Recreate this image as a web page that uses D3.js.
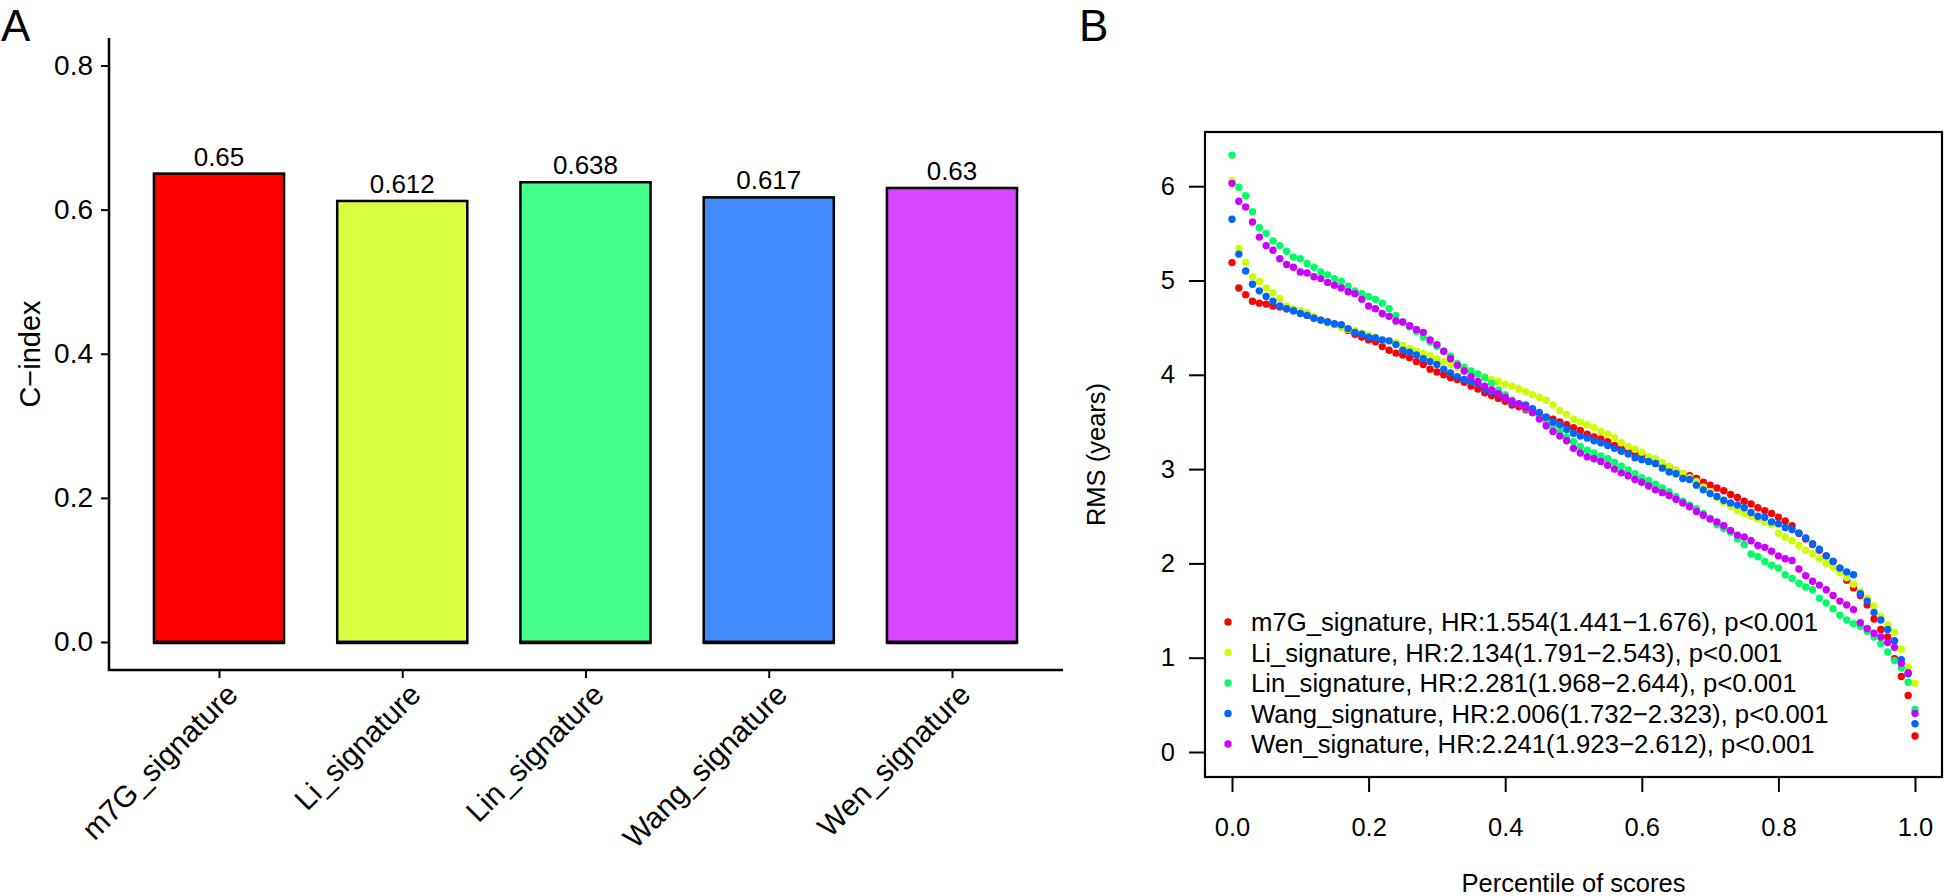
<!DOCTYPE html>
<html><head><meta charset="utf-8">
<script src="https://cdn.jsdelivr.net/npm/d3@7"></script>
<style>
body{margin:0;background:#fff}
svg{display:block}
text{font-family:"Liberation Sans",Arial,Helvetica,sans-serif;fill:#000}
</style>
</head><body>
<svg id="c" width="1944" height="896"></svg>
<script>
// ---------- Panel A data ----------
const categories = ["m7G_signature","Li_signature","Lin_signature","Wang_signature","Wen_signature"];
const cindex = [0.65, 0.612, 0.638, 0.617, 0.63];
const cindexLabels = ["0.65","0.612","0.638","0.617","0.63"];
const barColors = ["#FF0000","#D8FF40","#45FF8A","#428BFF","#D845FF"];
const cTicks = [0, 0.2, 0.4, 0.6, 0.8];

// ---------- Panel B data ----------
const rmsTicks = [0,1,2,3,4,5,6];
const pctTicks = [0,0.2,0.4,0.6,0.8,1.0];
const seriesNames = ["m7G_signature","Li_signature","Lin_signature","Wang_signature","Wen_signature"];
const legendLabels = [
  "m7G_signature, HR:1.554(1.441\u22121.676), p<0.001",
  "Li_signature, HR:2.134(1.791\u22122.543), p<0.001",
  "Lin_signature, HR:2.281(1.968\u22122.644), p<0.001",
  "Wang_signature, HR:2.006(1.732\u22122.323), p<0.001",
  "Wen_signature, HR:2.241(1.923\u22122.612), p<0.001"
];
const pointColors = ["#FF0000","#CCFF00","#00FF66","#0066FF","#CC00FF"];

const rms_m7G = [5.19,4.92,4.85,4.78,4.76,4.75,4.73,4.72,4.70,4.68,4.66,4.63,4.61,4.58,4.56,4.54,4.51,4.47,4.43,4.40,
4.37,4.35,4.30,4.26,4.23,4.21,4.18,4.14,4.11,4.06,4.03,4.00,3.97,3.95,3.92,3.88,3.85,3.81,3.78,3.75,
3.72,3.68,3.66,3.63,3.60,3.58,3.55,3.53,3.50,3.47,3.44,3.41,3.37,3.34,3.32,3.29,3.25,3.22,3.20,3.17,
3.15,3.10,3.06,3.04,3.02,2.98,2.95,2.93,2.90,2.86,2.83,2.80,2.77,2.73,2.70,2.66,2.63,2.59,2.56,2.53,
2.49,2.45,2.40,2.32,2.26,2.20,2.14,2.08,2.02,1.95,1.82,1.74,1.66,1.56,1.41,1.30,1.22,0.99,0.80,0.60,0.17];

const rms_Li = [6.06,5.34,5.19,5.04,4.99,4.92,4.87,4.81,4.73,4.70,4.68,4.66,4.62,4.58,4.55,4.53,4.50,4.48,4.47,4.44,
4.42,4.40,4.37,4.36,4.34,4.31,4.28,4.25,4.23,4.20,4.17,4.14,4.11,4.08,4.05,4.02,4.00,3.98,3.95,3.93,
3.90,3.88,3.85,3.82,3.79,3.76,3.73,3.68,3.62,3.58,3.53,3.50,3.47,3.44,3.40,3.37,3.33,3.28,3.24,3.21,
3.18,3.13,3.11,3.07,3.03,2.99,2.95,2.91,2.87,2.81,2.76,2.70,2.65,2.60,2.56,2.53,2.50,2.47,2.44,2.41,
2.32,2.28,2.24,2.19,2.14,2.10,2.05,2.00,1.96,1.90,1.85,1.78,1.70,1.63,1.55,1.44,1.35,1.27,1.09,0.90,0.73];

const rms_Lin = [6.33,5.99,5.90,5.73,5.56,5.50,5.42,5.37,5.31,5.25,5.23,5.18,5.14,5.09,5.06,5.02,4.99,4.94,4.89,4.86,
4.83,4.80,4.76,4.70,4.63,4.56,4.51,4.46,4.40,4.35,4.30,4.25,4.20,4.12,4.08,4.04,4.01,3.97,3.91,3.84,
3.79,3.73,3.69,3.64,3.60,3.55,3.50,3.45,3.40,3.34,3.29,3.24,3.20,3.17,3.14,3.11,3.07,3.03,2.99,2.95,
2.91,2.88,2.84,2.80,2.76,2.71,2.66,2.62,2.58,2.53,2.48,2.41,2.37,2.33,2.26,2.20,2.10,2.07,2.02,1.98,
1.95,1.88,1.84,1.79,1.75,1.72,1.63,1.58,1.52,1.45,1.40,1.36,1.33,1.28,1.22,1.15,1.06,0.97,0.89,0.74,0.45];

const rms_Wang = [5.65,5.28,5.10,4.96,4.89,4.83,4.78,4.73,4.70,4.68,4.65,4.63,4.60,4.58,4.56,4.54,4.53,4.49,4.45,4.43,
4.40,4.39,4.37,4.36,4.32,4.26,4.24,4.21,4.17,4.14,4.11,4.06,4.02,3.98,3.95,3.93,3.91,3.85,3.82,3.79,
3.75,3.70,3.69,3.68,3.64,3.60,3.55,3.50,3.47,3.42,3.38,3.35,3.33,3.30,3.28,3.25,3.22,3.19,3.16,3.12,
3.10,3.08,3.06,3.01,2.97,2.95,2.90,2.89,2.83,2.78,2.74,2.71,2.67,2.64,2.62,2.59,2.54,2.50,2.49,2.44,
2.42,2.38,2.36,2.32,2.27,2.21,2.15,2.08,2.02,1.95,1.91,1.88,1.68,1.60,1.48,1.40,1.30,1.18,0.98,0.83,0.30];

const rms_Wen = [6.03,5.84,5.78,5.62,5.46,5.37,5.32,5.23,5.17,5.14,5.09,5.08,5.04,5.02,4.98,4.95,4.92,4.88,4.86,4.80,
4.73,4.70,4.65,4.62,4.57,4.56,4.52,4.48,4.45,4.37,4.32,4.25,4.17,4.10,4.04,3.98,3.93,3.88,3.84,3.80,
3.76,3.72,3.69,3.65,3.60,3.53,3.46,3.40,3.35,3.30,3.22,3.17,3.13,3.11,3.08,3.04,3.00,2.96,2.93,2.89,
2.86,2.82,2.78,2.75,2.72,2.68,2.64,2.60,2.55,2.51,2.47,2.44,2.40,2.35,2.30,2.28,2.24,2.19,2.17,2.13,
2.08,2.05,2.03,1.94,1.87,1.81,1.77,1.72,1.66,1.60,1.56,1.51,1.37,1.31,1.26,1.22,1.16,1.11,0.94,0.84,0.41];

const seriesValues = [rms_m7G, rms_Li, rms_Lin, rms_Wang, rms_Wen];

// ---------- Drawing ----------
const svg = d3.select("#c");
const FONT = '"Liberation Sans",Arial,Helvetica,sans-serif';

// Panel labels
svg.append("text").attr("x",1).attr("y",41).style("font-size","44px").text("A");
svg.append("text").attr("x",1079).attr("y",41).style("font-size","44px").text("B");

// ===== Panel A =====
const A = svg.append("g");
const yA = d3.scaleLinear().domain([0,0.8]).range([642,65.5]);
const xA = d3.scalePoint().domain(categories).range([219,952]);
const barW = xA.step()*0.71;
const axL = 109, axR = 1063;

// bars
A.selectAll("rect.bar").data(categories).join("rect")
  .attr("class","bar")
  .attr("x",d=>xA(d)-barW/2)
  .attr("y",(d,i)=>yA(cindex[i]))
  .attr("width",barW)
  .attr("height",(d,i)=>yA(0)-yA(cindex[i]))
  .attr("fill",(d,i)=>barColors[i])
  .attr("stroke","#000").attr("stroke-width",2.5);
A.selectAll("line.base").data(categories).join("line")
  .attr("x1",d=>xA(d)-barW/2-1).attr("x2",d=>xA(d)+barW/2+1)
  .attr("y1",yA(0)+0.5).attr("y2",yA(0)+0.5)
  .attr("stroke","#000").attr("stroke-width",3.5);

// value labels
A.selectAll("text.val").data(categories).join("text")
  .attr("x",d=>xA(d)).attr("y",(d,i)=>yA(cindex[i])-8)
  .attr("text-anchor","middle").style("font-size","26px")
  .text((d,i)=>cindexLabels[i]);

// y axis
const yAxisA = d3.axisLeft(yA).tickValues(cTicks).tickFormat(d3.format(".1f")).tickSize(8).tickSizeOuter(0).tickPadding(8);
const gyA = A.append("g").attr("transform",`translate(${axL},0)`).call(yAxisA);
gyA.select(".domain").remove();
gyA.selectAll(".tick line").attr("stroke","#000").attr("stroke-width",2);
gyA.selectAll(".tick text").style("font-size","28px").style("font-family",FONT).attr("fill","#000");
A.append("line").attr("x1",axL).attr("x2",axL).attr("y1",38).attr("y2",671)
  .attr("stroke","#000").attr("stroke-width",2.5);

// x axis
const xAxisA = d3.axisBottom(xA).tickSize(8).tickSizeOuter(0).tickFormat("");
const gxA = A.append("g").attr("transform","translate(0,670)").call(xAxisA);
gxA.select(".domain").remove();
gxA.selectAll(".tick line").attr("stroke","#000").attr("stroke-width",2);
A.append("line").attr("x1",axL-1).attr("x2",axR).attr("y1",670).attr("y2",670)
  .attr("stroke","#000").attr("stroke-width",2.5);

// rotated category labels
A.selectAll("text.cat").data(categories).join("text")
  .attr("class","cat")
  .attr("transform",d=>`translate(${xA(d)+13},${689}) rotate(-45)`)
  .attr("text-anchor","end").attr("dominant-baseline","central")
  .style("font-size","30px").text(d=>d);

// y title
A.append("text").attr("transform",`translate(40,354) rotate(-90)`)
  .attr("text-anchor","middle").style("font-size","29px").text("C\u2212index");

// ===== Panel B =====
const B = svg.append("g");
const fL=1205, fR=1942, fT=132, fB=777;
const xB = d3.scaleLinear().domain([0,1]).range([1232,1915]);
const yB = d3.scaleLinear().domain([0,6]).range([752,186.2]);

// frame
B.append("rect").attr("x",fL).attr("y",fT).attr("width",fR-fL).attr("height",fB-fT)
  .attr("fill","none").attr("stroke","#000").attr("stroke-width",2.2);

// points
const nPts = rms_m7G.length;
const percentiles = d3.range(nPts).map(i=>i/(nPts-1));
seriesValues.forEach((vals,si)=>{
  B.append("g").selectAll("circle").data(vals).join("circle")
    .attr("cx",(d,i)=>xB(percentiles[i]))
    .attr("cy",d=>yB(d))
    .attr("r",3.7)
    .attr("fill",pointColors[si]);
});

// y axis
const yAxisB = d3.axisLeft(yB).tickValues(rmsTicks).tickFormat(d3.format("d")).tickSize(16).tickSizeOuter(0).tickPadding(14);
const gyB = B.append("g").attr("transform",`translate(${fL},0)`).call(yAxisB);
gyB.select(".domain").remove();
gyB.selectAll(".tick line").attr("stroke","#000").attr("stroke-width",2);
gyB.selectAll(".tick text").style("font-size","25.5px").style("font-family",FONT).attr("fill","#000");

// x axis
const xAxisB = d3.axisBottom(xB).tickValues(pctTicks).tickFormat(d3.format(".1f")).tickSize(15).tickSizeOuter(0).tickPadding(26);
const gxB = B.append("g").attr("transform",`translate(0,${fB})`).call(xAxisB);
gxB.select(".domain").remove();
gxB.selectAll(".tick line").attr("stroke","#000").attr("stroke-width",2);
gxB.selectAll(".tick text").style("font-size","25.5px").style("font-family",FONT).attr("fill","#000");

// titles
B.append("text").attr("x",(fL+fR)/2).attr("y",892).attr("text-anchor","middle")
  .style("font-size","25.5px").text("Percentile of scores");
B.append("text").attr("transform",`translate(1105,${(fT+fB)/2}) rotate(-90)`)
  .attr("text-anchor","middle").style("font-size","25.5px").text("RMS (years)");

// legend
const legY = d3.scalePoint().domain(seriesNames).range([622,744]);
const leg = B.append("g");
leg.selectAll("circle").data(seriesNames).join("circle")
  .attr("cx",1228).attr("cy",d=>legY(d)).attr("r",3.7)
  .attr("fill",(d,i)=>pointColors[i]);
leg.selectAll("text").data(seriesNames).join("text")
  .attr("x",1251).attr("y",d=>legY(d)).attr("dominant-baseline","central")
  .style("font-size","25.7px").text((d,i)=>legendLabels[i]);
</script>
</body></html>
